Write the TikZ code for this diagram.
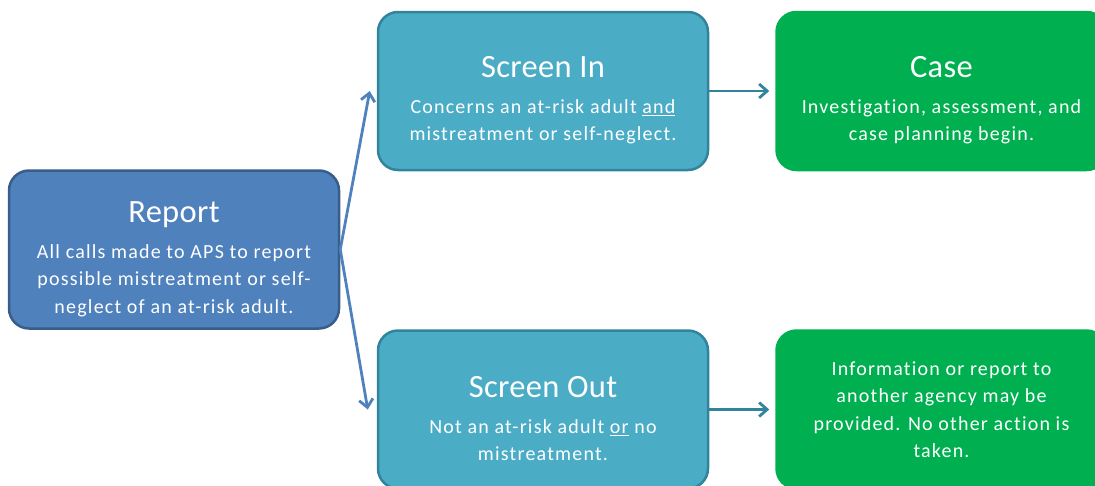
\documentclass[tikz,border=0pt]{standalone}
\usepackage{fontspec}
\setmainfont[Ligatures=CommonOff]{Carlito}
\usetikzlibrary{arrows.meta, positioning}
\definecolor{apsblue}{RGB}{79,129,189}
\definecolor{apsbluedark}{RGB}{56,93,138}
\definecolor{apsteal}{RGB}{75,172,198}
\definecolor{apstealdark}{RGB}{49,132,155}
\definecolor{apsgreen}{RGB}{0,176,80}
\newcommand{\boxtitle}[1]{\rule{0pt}{40pt}{\fontsize{32.5}{32.5}\selectfont\addfontfeature{LetterSpace=1}#1}\\[8pt]}

\begin{document}
\begin{tikzpicture}[
    x=1pt, y=1pt,
    node distance=66pt,
    box/.style={rectangle, rounded corners=20pt, line width=2.5pt,
                minimum width=330pt, minimum height=158pt, align=center,
                text=white, font=\fontsize{20}{27.5}\selectfont\addfontfeature{LetterSpace=6}},
    arrow/.style={-{Straight Barb[length=8pt,width=14pt]}, line width=2.8pt}
  ]
    \useasboundingbox (0,0) rectangle (1095,-485);
    \clip (0,0) rectangle (1095,-485);
    \node[box, fill=apsblue, draw=apsbluedark] (report) at (174,-249.5)
        {\boxtitle{Report}All calls made to APS to report\\possible mistreatment or self-\\neglect of an at-risk adult.};
    \node[box, fill=apsteal, draw=apstealdark] (scrin) at (543,-91)
        {\boxtitle{Screen In}Concerns an at-risk adult \underline{and}\\mistreatment or self-neglect.};
    \node[box, fill=apsteal, draw=apstealdark, below=158pt of scrin] (scrout)
        {\boxtitle{Screen Out}Not an at-risk adult \underline{or} no\\mistreatment.};
    \node[box, fill=apsgreen, draw=apsgreen, right=of scrin] (case)
        {\boxtitle{Case}Investigation, assessment, and\\case planning begin.};
    \node[box, fill=apsgreen, draw=apsgreen, right=of scrout] (info)
        {Information or report to\\another agency may be\\provided. No other action is\\taken.};
    \draw[arrow, apsblue] (report.east) -- ([xshift=-7pt]scrin.west);
    \draw[arrow, apsblue] (report.east) -- ([xshift=-9pt]scrout.west);
    \draw[arrow, apstealdark] (scrin)  -- ([xshift=-6pt]case.west);
    \draw[arrow, apstealdark] (scrout) -- ([xshift=-6pt]info.west);
\end{tikzpicture}
\end{document}
